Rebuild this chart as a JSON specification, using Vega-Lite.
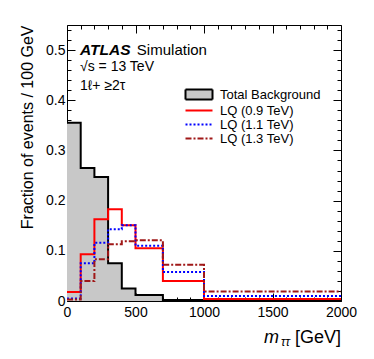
{
  "$schema": "https://vega.github.io/schema/vega-lite/v6.json",
  "width": 274,
  "height": 276,
  "autosize": {"type": "none"},
  "padding": {"left": 67, "top": 25, "right": 33, "bottom": 58},
  "background": "white",
  "config": {
    "view": {"stroke": "black", "strokeWidth": 1},
    "font": "Liberation Sans",
    "axis": {"domain": false, "grid": false, "tickColor": "black", "tickWidth": 1, "labelFont": "Liberation Sans", "labelFontSize": 14, "labelColor": "black", "titleColor": "black", "titleFont": "Liberation Sans", "titleFontWeight": "normal"}
  },
  "datasets": {
    "hist": [
      {"s": "Total Background", "x": 0, "y": 0.355},
      {"s": "Total Background", "x": 100, "y": 0.265},
      {"s": "Total Background", "x": 200, "y": 0.247},
      {"s": "Total Background", "x": 300, "y": 0.075},
      {"s": "Total Background", "x": 400, "y": 0.025},
      {"s": "Total Background", "x": 500, "y": 0.012},
      {"s": "Total Background", "x": 700, "y": 0.002},
      {"s": "Total Background", "x": 1000, "y": 0.0003},
      {"s": "Total Background", "x": 2000, "y": 0.0003},
      {"s": "LQ (0.9 TeV)", "x": 0, "y": 0.018},
      {"s": "LQ (0.9 TeV)", "x": 100, "y": 0.093},
      {"s": "LQ (0.9 TeV)", "x": 200, "y": 0.163},
      {"s": "LQ (0.9 TeV)", "x": 300, "y": 0.183},
      {"s": "LQ (0.9 TeV)", "x": 400, "y": 0.151},
      {"s": "LQ (0.9 TeV)", "x": 500, "y": 0.105},
      {"s": "LQ (0.9 TeV)", "x": 700, "y": 0.040},
      {"s": "LQ (0.9 TeV)", "x": 1000, "y": 0.004},
      {"s": "LQ (0.9 TeV)", "x": 2000, "y": 0.004},
      {"s": "LQ (1.1 TeV)", "x": 0, "y": 0.005},
      {"s": "LQ (1.1 TeV)", "x": 100, "y": 0.075},
      {"s": "LQ (1.1 TeV)", "x": 200, "y": 0.116},
      {"s": "LQ (1.1 TeV)", "x": 300, "y": 0.143},
      {"s": "LQ (1.1 TeV)", "x": 400, "y": 0.151},
      {"s": "LQ (1.1 TeV)", "x": 500, "y": 0.110},
      {"s": "LQ (1.1 TeV)", "x": 700, "y": 0.058},
      {"s": "LQ (1.1 TeV)", "x": 1000, "y": 0.010},
      {"s": "LQ (1.1 TeV)", "x": 2000, "y": 0.010},
      {"s": "LQ (1.3 TeV)", "x": 0, "y": 0.003},
      {"s": "LQ (1.3 TeV)", "x": 100, "y": 0.040},
      {"s": "LQ (1.3 TeV)", "x": 200, "y": 0.083},
      {"s": "LQ (1.3 TeV)", "x": 300, "y": 0.113},
      {"s": "LQ (1.3 TeV)", "x": 400, "y": 0.119},
      {"s": "LQ (1.3 TeV)", "x": 500, "y": 0.121},
      {"s": "LQ (1.3 TeV)", "x": 700, "y": 0.072},
      {"s": "LQ (1.3 TeV)", "x": 1000, "y": 0.019},
      {"s": "LQ (1.3 TeV)", "x": 2000, "y": 0.019}
    ]
  },
  "data": {"name": "hist"},
  "resolve": {"axis": {"x": "independent", "y": "independent"}},
  "layer": [
    {
      "transform": [{"filter": "datum.s === 'Total Background'"}],
      "mark": {"type": "area", "interpolate": "step-after", "fill": "#c8c8c8"},
      "encoding": {
        "x": {"field": "x", "type": "quantitative", "scale": {"domain": [0, 2000], "nice": false},
              "axis": {"orient": "bottom", "values": [0, 500, 1000, 1500, 2000], "format": "d", "tickSize": -8, "labelPadding": 12, "title": null, "labelFlush": false}},
        "y": {"field": "y", "type": "quantitative", "scale": {"domain": [0, 0.55], "nice": false},
              "axis": {"orient": "left", "values": [0, 0.1, 0.2, 0.3, 0.4, 0.5], "format": "~g", "tickSize": -8, "labelPadding": 10, "title": "Fraction of events / 100 GeV", "titleFontSize": 16, "titleAnchor": "end", "titlePadding": 10}}
      }
    },
    {
      "transform": [{"filter": "datum.s === 'Total Background'"}],
      "mark": {"type": "line", "interpolate": "step-after", "stroke": "black", "strokeWidth": 2},
      "encoding": {
        "x": {"field": "x", "type": "quantitative", "axis": {"orient": "top", "values": [0, 500, 1000, 1500, 2000], "tickSize": -8, "labels": false, "title": null}},
        "y": {"field": "y", "type": "quantitative", "axis": {"orient": "right", "values": [0, 0.1, 0.2, 0.3, 0.4, 0.5], "tickSize": -8, "labels": false, "title": null}}
      }
    },
    {
      "transform": [{"filter": "datum.s !== 'Total Background'"}],
      "mark": {"type": "line", "interpolate": "step-after", "strokeWidth": 2},
      "encoding": {
        "x": {"field": "x", "type": "quantitative", "axis": {"orient": "bottom", "values": [100, 200, 300, 400, 600, 700, 800, 900, 1100, 1200, 1300, 1400, 1600, 1700, 1800, 1900], "tickSize": -4, "labels": false, "title": null}},
        "y": {"field": "y", "type": "quantitative", "axis": {"orient": "left", "values": [0.02, 0.04, 0.06, 0.08, 0.12, 0.14, 0.16, 0.18, 0.22, 0.24, 0.26, 0.28, 0.32, 0.34, 0.36, 0.38, 0.42, 0.44, 0.46, 0.48, 0.52, 0.54], "tickSize": -4, "labels": false, "title": null}},
        "stroke": {"field": "s", "type": "nominal",
                   "scale": {"domain": ["Total Background", "LQ (0.9 TeV)", "LQ (1.1 TeV)", "LQ (1.3 TeV)"], "range": ["black", "#ff0000", "#0000ff", "#a01818"]},
                   "legend": {"orient": "none", "legendX": 125.5, "legendY": 63, "title": null, "labelFont": "Liberation Sans", "labelFontSize": 13, "labelColor": "black", "symbolSize": 100, "labelOffset": 14.5, "rowPadding": 0, "symbolStrokeWidth": 2,
                              "encode": {"symbols": {"update": {
                                "shape": {"signal": "datum.value === 'Total Background' ? 'M-2.7,-1H2.7V1H-2.7Z' : 'M-2.7,0H2.7'"},
                                "fill": {"signal": "datum.value === 'Total Background' ? '#c8c8c8' : 'transparent'"}
                              }}}}},
        "strokeDash": {"field": "s", "type": "nominal",
                       "scale": {"domain": ["Total Background", "LQ (0.9 TeV)", "LQ (1.1 TeV)", "LQ (1.3 TeV)"], "range": [[1, 0], [1, 0], [2, 2], [6, 2, 2, 2]]},
                       "legend": null}
      }
    },
    {
      "transform": [{"filter": "datum.s === 'Total Background'"}],
      "mark": {"type": "line", "interpolate": "step-after", "opacity": 0},
      "encoding": {
        "x": {"field": "x", "type": "quantitative", "axis": {"orient": "top", "values": [100, 200, 300, 400, 600, 700, 800, 900, 1100, 1200, 1300, 1400, 1600, 1700, 1800, 1900], "tickSize": -4, "labels": false, "title": null}},
        "y": {"field": "y", "type": "quantitative", "axis": {"orient": "right", "values": [0.02, 0.04, 0.06, 0.08, 0.12, 0.14, 0.16, 0.18, 0.22, 0.24, 0.26, 0.28, 0.32, 0.34, 0.36, 0.38, 0.42, 0.44, 0.46, 0.48, 0.52, 0.54], "tickSize": -4, "labels": false, "title": null}}
      }
    },
    {
      "data": {"values": [{"t": "ATLAS"}]},
      "mark": {"type": "text", "align": "left", "baseline": "middle", "fontSize": 15.5, "fontStyle": "italic", "fontWeight": "bold", "font": "Liberation Sans", "color": "black"},
      "encoding": {"text": {"field": "t"}, "x": {"datum": 95, "type": "quantitative", "axis": null}, "y": {"datum": 0.5, "type": "quantitative", "axis": null}}
    },
    {
      "data": {"values": [{"t": "Simulation"}]},
      "mark": {"type": "text", "align": "left", "baseline": "middle", "fontSize": 15, "font": "Liberation Sans", "color": "black"},
      "encoding": {"text": {"field": "t"}, "x": {"datum": 510, "type": "quantitative", "axis": null}, "y": {"datum": 0.5, "type": "quantitative", "axis": null}}
    },
    {
      "data": {"values": [{"t": "√s = 13 TeV"}]},
      "mark": {"type": "text", "align": "left", "baseline": "middle", "fontSize": 14, "font": "Liberation Sans", "color": "black"},
      "encoding": {"text": {"field": "t"}, "x": {"datum": 95, "type": "quantitative", "axis": null}, "y": {"datum": 0.467, "type": "quantitative", "axis": null}}
    },
    {
      "data": {"values": [{"t": "1ℓ+ ≥2τ"}]},
      "mark": {"type": "text", "align": "left", "baseline": "middle", "fontSize": 14, "font": "Liberation Sans", "color": "black"},
      "encoding": {"text": {"field": "t"}, "x": {"datum": 95, "type": "quantitative", "axis": null}, "y": {"datum": 0.428, "type": "quantitative", "axis": null}}
    },
    {
      "data": {"values": [{"t": "m"}]},
      "mark": {"type": "text", "align": "left", "baseline": "middle", "fontSize": 18, "fontStyle": "italic", "font": "Liberation Sans", "color": "black"},
      "encoding": {"text": {"field": "t"}, "x": {"datum": 1438, "type": "quantitative", "axis": null}, "y": {"datum": -0.0737, "type": "quantitative", "axis": null}}
    },
    {
      "data": {"values": [{"t": "ττ"}]},
      "mark": {"type": "text", "align": "left", "baseline": "middle", "fontSize": 12, "fontStyle": "italic", "font": "Liberation Sans", "color": "black"},
      "encoding": {"text": {"field": "t"}, "x": {"datum": 1562, "type": "quantitative", "axis": null}, "y": {"datum": -0.081, "type": "quantitative", "axis": null}}
    },
    {
      "data": {"values": [{"t": "[GeV]"}]},
      "mark": {"type": "text", "align": "left", "baseline": "middle", "fontSize": 18, "font": "Liberation Sans", "color": "black"},
      "encoding": {"text": {"field": "t"}, "x": {"datum": 1664, "type": "quantitative", "axis": null}, "y": {"datum": -0.0737, "type": "quantitative", "axis": null}}
    }
  ]
}
